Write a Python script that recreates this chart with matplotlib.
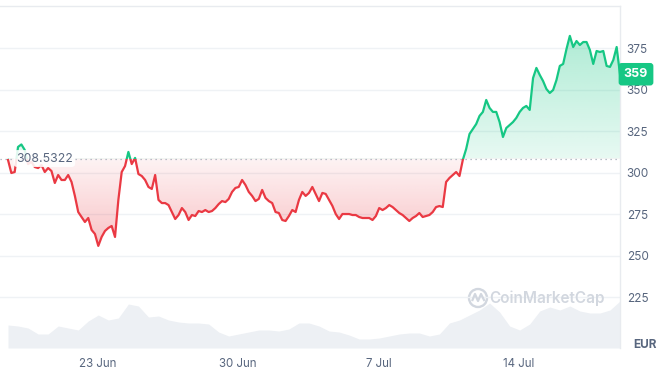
import numpy as np
import pandas as pd
import matplotlib
matplotlib.use('Agg')
import matplotlib.pyplot as plt
import matplotlib.dates as mdates
from matplotlib.patches import Rectangle, Circle
from matplotlib.path import Path
from matplotlib.lines import Line2D
from matplotlib.transforms import IdentityTransform

plt.rcParams['font.family'] = ['Inter', 'DejaVu Sans']

# ---------------- data ----------------
start_time = '2024-06-18 13:00'
price_freq = '4h'
prices = [
    307.7, 299.8, 300.4, 315.5, 317.0, 313.7, 305.2, 306.5, 303.4, 302.8,
    304.6, 300.4, 302.8, 301.0, 293.8, 298.6, 295.6, 295.6, 298.6, 294.4,
    286.0, 276.3, 273.3, 270.3, 272.7, 265.5, 263.1, 255.9, 261.3, 264.9,
    266.7, 267.9, 261.3, 283.6, 300.4, 304.0, 312.5, 305.2, 308.9, 299.2,
    298.0, 295.6, 291.4, 290.2, 298.6, 283.6, 281.7, 281.7, 280.5, 276.3,
    272.1, 274.5, 278.7, 276.3, 271.5, 274.5, 273.9, 276.9, 276.3, 277.5,
    276.3, 276.9, 278.7, 281.1, 282.9, 282.3, 284.2, 288.4, 290.8, 291.4,
    295.6, 292.6, 288.4, 286.0, 282.9, 284.2, 289.6, 284.8, 282.9, 281.7,
    276.3, 275.7, 271.5, 270.9, 273.9, 277.5, 276.3, 283.6, 288.4, 286.0,
    287.8, 291.4, 287.2, 282.9, 287.8, 287.2, 283.6, 280.0, 275.1, 272.1,
    275.1, 275.1, 275.1, 274.5, 274.5, 273.3, 272.7, 272.7, 272.7, 271.5,
    273.9, 278.7, 277.5, 278.7, 280.5, 279.3, 277.5, 275.7, 274.5, 272.7,
    270.9, 272.7, 273.9, 275.7, 273.3, 273.9, 274.5, 276.3, 279.3, 279.9,
    279.3, 294.4, 296.8, 298.6, 300.4, 298.0, 307.7, 314.3, 323.3, 326.3,
    329.3, 334.2, 336.6, 343.8, 339.0, 336.6, 336.6, 330.5, 321.5, 326.9,
    328.7, 330.5, 333.0, 336.6, 339.0, 340.2, 337.8, 357.0, 363.1, 358.9,
    355.2, 350.4, 348.0, 349.8, 355.8, 364.3, 365.5, 374.5, 382.4, 375.7,
    379.3, 376.9, 378.7, 378.7, 373.9, 365.5, 373.3, 372.7, 373.3, 364.3,
    363.7, 367.9, 375.7, 359.3,
]
volume_freq = '12h'
volumes = [
    23, 22, 20, 14, 14, 22, 20, 18, 27, 33,
    28, 30, 44, 42, 31, 32, 28, 26, 25, 25,
    24, 16, 12, 14, 16, 18, 18, 17, 19, 25,
    25, 22, 17, 16, 13, 9, 9, 10, 12, 14,
    15, 15, 12, 14, 25, 28, 33, 38, 45, 36,
    22, 18, 24, 37, 41, 38, 42, 37, 35, 35,
    38, 47,
]
baseline = 308.5322
baseline_label = '308.5322'
last_label = '359'
y_ticks = [225, 250, 275, 300, 325, 350, 375]
x_tick_dates = ['2024-06-23', '2024-06-30', '2024-07-07', '2024-07-14']
x_tick_labels = ['23 Jun', '30 Jun', '7 Jul', '14 Jul']
currency = 'EUR'
watermark = 'CoinMarketCap'

# ---------------- style ----------------
GREEN = '#16c784'
RED = '#ea3943'
GREY_TXT = '#58667e'
GRID = '#eff2f5'
W, H = 663, 374

t = pd.date_range(start_time, periods=len(prices), freq=price_freq)
tv = pd.date_range(start_time, periods=len(volumes), freq=volume_freq)
x = mdates.date2num(t.to_pydatetime())
xv = mdates.date2num(tv.to_pydatetime())
p = np.array(prices, dtype=float)

days_per_px = (x[-1] - x[0]) / 612.0
xlim = (x[0] - 8 * days_per_px, x[-1])

fig = plt.figure(figsize=(W / 100, H / 100), dpi=100)
rect = [0 / W, (H - 348) / H, 620 / W, 342 / H]

# volume (background)
axv = fig.add_axes(rect, zorder=0)
axv.fill_between(xv, volumes, 0, color='#edf0f4', lw=0)
axv.set_xlim(*xlim)
axv.set_ylim(0, 342)
axv.axis('off')

ax = fig.add_axes(rect, zorder=1)
ax.patch.set_alpha(0)

# gradient fills clipped to area between line and baseline
poly = np.column_stack([np.r_[x[0], x, x[-1]], np.r_[baseline, p, baseline]])
clip_path = Path(poly)


def grad(color, a_bottom, a_top, n=256):
    rgb = matplotlib.colors.to_rgb(color)
    img = np.zeros((n, 2, 4))
    img[..., 0], img[..., 1], img[..., 2] = rgb
    img[..., 3] = np.linspace(a_bottom, a_top, n)[:, None]
    return img


im_r = ax.imshow(grad(RED, 0.30, 0.06), extent=[x[0], x[-1], p.min(), baseline],
                 origin='lower', aspect='auto', interpolation='bilinear', zorder=2)
im_r.set_clip_path(clip_path, transform=ax.transData)
im_g = ax.imshow(grad(GREEN, 0.10, 0.34), extent=[x[0], x[-1], baseline, p.max()],
                 origin='lower', aspect='auto', interpolation='bilinear', zorder=2)
im_g.set_clip_path(clip_path, transform=ax.transData)

# baseline dotted
ax.axhline(baseline, color='#a3abb8', lw=0.9, ls=(0, (1, 3)), zorder=3)

# price line, green above / red below baseline
ln_g, = ax.plot(x, p, color=GREEN, lw=1.6, solid_joinstyle='round', zorder=4)
ln_r, = ax.plot(x, p, color=RED, lw=1.6, solid_joinstyle='round', zorder=4)
up = Rectangle((x[0] - 50, baseline), 200, 1000, transform=ax.transData)
dn = Rectangle((x[0] - 50, baseline - 1000), 200, 1000, transform=ax.transData)
ln_g.set_clip_path(up)
ln_r.set_clip_path(dn)

ax.set_xlim(*xlim)
ax.set_ylim(194.4, 400.4)

# axes styling
for s in ['left', 'bottom']:
    ax.spines[s].set_visible(False)
for s in ['top', 'right']:
    ax.spines[s].set_color('#e8ebef')
    ax.spines[s].set_linewidth(1.0)

ax.yaxis.tick_right()
ax.set_yticks(y_ticks)
ax.set_yticklabels([str(v) for v in y_ticks])
ax.yaxis.grid(True, color=GRID, lw=1.0)
ax.tick_params(axis='y', length=0, pad=4.8, labelsize=8.5, labelcolor=GREY_TXT)
ax.set_xticks(mdates.date2num(pd.to_datetime(x_tick_dates).to_pydatetime()))
ax.set_xticklabels(x_tick_labels)
ax.tick_params(axis='x', length=0, pad=7, labelsize=8.3, labelcolor=GREY_TXT)
ax.set_axisbelow(True)

# baseline label
ax.text((16) / 620, baseline, baseline_label, transform=ax.get_yaxis_transform(),
        ha='left', va='center', fontsize=8.8, color=GREY_TXT, zorder=6,
        bbox=dict(boxstyle='round,pad=0.2,rounding_size=0.3', fc='white', ec='none', alpha=0.88))

# last price label
ax.text(636 / 620, p[-1], last_label, transform=ax.get_yaxis_transform(),
        ha='center', va='center', fontsize=9, color='white', fontweight='bold', zorder=10,
        clip_on=False,
        bbox=dict(boxstyle='round,pad=0.42,rounding_size=0.25', fc=GREEN, ec='none'))

# currency label
fig.text(645 / W, 1 - 345 / H, currency, ha='center', va='center', fontsize=8.5,
         fontweight='bold', color=GREY_TXT)

# watermark
fig.text(547 / W, 1 - 298 / H, watermark, ha='center', va='center', fontsize=11,
         color='#d2d7df', fontweight='semibold')
fig.add_artist(Circle((478, H - 298), 9, transform=IdentityTransform(), fill=False,
                      ec='#d2d7df', lw=1.7))
wx = [472.5, 475, 478, 481, 484]
wy = [H - 300, H - 294, H - 301, H - 294, H - 300]
fig.add_artist(Line2D(wx, wy, transform=IdentityTransform(), color='#d2d7df', lw=1.6))

fig.savefig('out.png', dpi=100)
